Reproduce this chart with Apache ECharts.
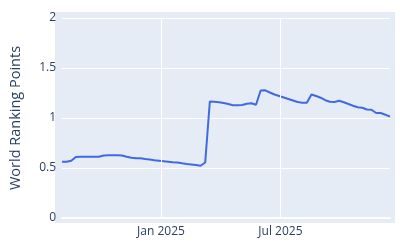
<!DOCTYPE html>
<html><head><meta charset="utf-8">
<script src="https://cdn.jsdelivr.net/npm/echarts@6/dist/echarts.min.js"></script>
<style>html,body{margin:0;padding:0;background:#fff}#c{width:400px;height:250px}</style>
</head><body><div id="c"></div>
<script>
const dates = [
 '2024-08-04','2024-08-11','2024-08-18','2024-08-25','2024-09-01','2024-09-08','2024-09-15','2024-09-22','2024-09-29',
 '2024-10-06','2024-10-13','2024-10-20','2024-10-27','2024-11-03','2024-11-10','2024-11-17','2024-11-24',
 '2024-12-01','2024-12-08','2024-12-15','2024-12-22','2024-12-29',
 '2025-01-05','2025-01-12','2025-01-19','2025-01-26','2025-02-02','2025-02-09','2025-02-16','2025-02-23',
 '2025-03-02','2025-03-09','2025-03-16','2025-03-23','2025-03-30','2025-04-06','2025-04-13','2025-04-20','2025-04-27',
 '2025-05-04','2025-05-11','2025-05-18','2025-05-25','2025-06-01','2025-06-08','2025-06-15','2025-06-22','2025-06-29',
 '2025-07-06','2025-07-13','2025-07-20','2025-07-27','2025-08-03','2025-08-10','2025-08-17','2025-08-24','2025-08-31',
 '2025-09-07','2025-09-14','2025-09-21','2025-09-28','2025-10-05','2025-10-12','2025-10-19','2025-10-26',
 '2025-11-02','2025-11-09','2025-11-16','2025-11-23','2025-11-30','2025-12-07','2025-12-14'
];
const points = [
 0.563,0.563,0.572,0.610,0.613,0.613,0.613,0.613,0.613,
 0.625,0.627,0.627,0.627,0.625,0.613,0.603,0.597,
 0.597,0.590,0.585,0.578,0.573,
 0.568,0.563,0.558,0.555,0.547,0.540,0.535,0.530,
 0.523,0.555,1.165,1.163,1.158,1.150,1.140,1.128,1.128,
 1.130,1.143,1.147,1.133,1.275,1.277,1.255,1.235,1.220,
 1.205,1.190,1.175,1.160,1.153,1.153,1.235,1.220,1.203,
 1.178,1.163,1.160,1.172,1.157,1.140,1.123,1.107,
 1.103,1.085,1.083,1.050,1.050,1.033,1.013
];
const yTicks = [0, 0.5, 1, 1.5, 2];
const xTickDates = ['2025-01-01', '2025-07-01'];
const xTickLabels = ['Jan 2025', 'Jul 2025'];

const font = '"Open Sans", sans-serif';
const txt = '#2a3f5f';
const chart = echarts.init(document.getElementById('c'), null, {renderer: 'canvas'});
chart.setOption({
  animation: false,
  graphic: [{type: 'rect', shape: {x: 55, y: 12, width: 340, height: 211}, style: {fill: '#e5ecf6'}, z: -10, silent: true}],
  grid: {left: 60, right: 10, top: 18, bottom: 32},
  xAxis: {
    type: 'time', min: dates[0], max: dates[dates.length - 1],
    axisLabel: {show: false}, axisTick: {show: false},
    axisLine: {show: true, lineStyle: {color: '#ffffff', width: 2}},
    splitLine: {show: false}
  },
  yAxis: {
    type: 'value', min: yTicks[0], max: yTicks[yTicks.length - 1], interval: 0.5,
    name: 'World Ranking Points', nameLocation: 'middle', nameGap: 39,
    nameTextStyle: {fontFamily: font, fontSize: 14.5, color: txt},
    axisLabel: {fontFamily: font, fontSize: 12, color: txt, margin: 6,
      formatter: v => String(v)},
    axisTick: {show: false}, axisLine: {show: false},
    splitLine: {lineStyle: {color: '#ffffff', width: 1}}
  },
  series: [
    {
      type: 'line', data: [], z: 1, silent: true,
      markLine: {
        silent: true, symbol: 'none', animation: false,
        lineStyle: {color: '#ffffff', width: 1, type: 'solid'},
        label: {position: 'start', distance: 8, fontFamily: font, fontSize: 12, color: txt,
          formatter: p => xTickLabels[p.dataIndex]},
        data: xTickDates.map(d => ({xAxis: d}))
      }
    },
    {
      type: 'line', z: 3, showSymbol: false, symbol: 'none',
      data: dates.map((d, i) => [d, points[i]]),
      lineStyle: {color: '#4169e1', width: 2}, itemStyle: {color: '#4169e1'}
    }
  ]
});
</script></body></html>
